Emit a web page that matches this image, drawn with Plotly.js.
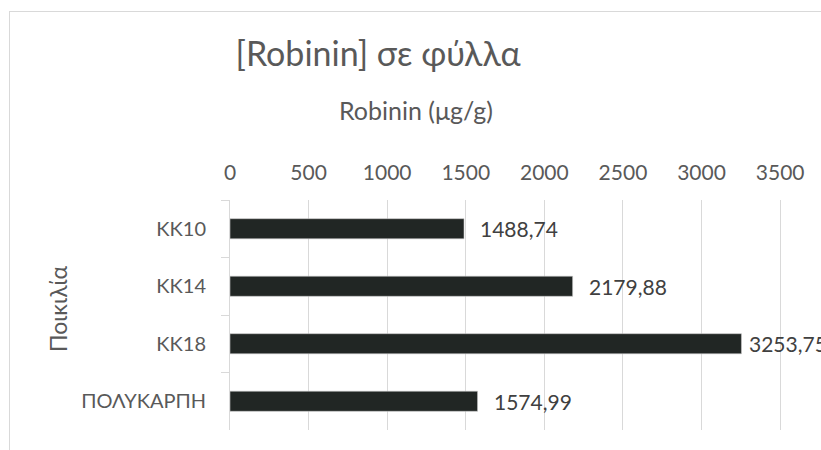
<!DOCTYPE html>
<html>
<head>
<meta charset="utf-8">
<script src="https://cdn.plot.ly/plotly-3.0.1.min.js"></script>
<style>
html,body{margin:0;padding:0;overflow:hidden;background:#fff;}
#chart{width:821px;height:450px;}
#frame{position:absolute;left:9px;top:11px;width:1200px;height:1200px;border:1px solid #d9d9d9;pointer-events:none;}
</style>
</head>
<body>
<div id="chart"></div>
<div id="frame"></div>
<script>
const categories = ["KK10", "KK14", "KK18", "ΠΟΛΥΚΑΡΠΗ"];
const values = [1488.74, 2179.88, 3253.75, 1574.99];
const tickValues = [0, 500, 1000, 1500, 2000, 2500, 3000, 3500];
const chartTitle = "[Robinin] σε φύλλα";
const xTitle = "Robinin (μg/g)";
const yTitle = "Ποικιλία";

const FONT = "Lato, 'Open Sans', sans-serif";
const labels = values.map(v => v.toFixed(2).replace('.', ','));

const trace = {
  type: 'bar',
  orientation: 'h',
  x: values,
  y: categories,
  marker: {color: '#212624', line: {color: '#c8c8c8', width: 0.6}},
  hoverinfo: 'skip'
};

const XMAX = 3760;
const annotations = values.map((v, i) => ({
  x: v, y: categories[i], xref: 'x', yref: 'y',
  text: labels[i], showarrow: false, xanchor: 'left', yanchor: 'middle',
  xshift: v > XMAX * 0.8 ? 6 : 14, font: {family: FONT, size: 21, color: '#404040'}
}));
annotations.push({
  text: xTitle, xref: 'paper', yref: 'paper',
  x: (416 - 230) / 591, y: (430 - 110) / 230, xanchor: 'center', yanchor: 'middle',
  showarrow: false, font: {family: FONT, size: 25, color: '#595959'}
});
annotations.push({
  text: yTitle, xref: 'paper', yref: 'paper', textangle: -90,
  x: (58 - 230) / 591, y: (430 - 309) / 230, xanchor: 'center', yanchor: 'middle',
  showarrow: false, font: {family: FONT, size: 23, color: '#595959'}
});

const layout = {
  width: 821, height: 450,
  margin: {l: 230, r: 0, t: 200, b: 20},
  paper_bgcolor: '#fff', plot_bgcolor: '#fff',
  font: {family: FONT, color: '#595959'},
  showlegend: false,
  bargap: 0.65,
  title: {text: chartTitle, x: 378/821, xref: 'container', xanchor: 'center',
          y: 1 - 54/450, yref: 'container', yanchor: 'middle',
          font: {family: FONT, size: 34, color: '#595959'}},
  xaxis: {
    side: 'top', range: [0, XMAX], tickvals: tickValues,
    showgrid: true, gridcolor: '#d9d9d9', gridwidth: 1,
    zeroline: false, showline: false, ticks: '',
    tickfont: {family: FONT, size: 21, color: '#595959'},
    ticklabelstandoff: 15,
    fixedrange: true
  },
  yaxis: {
    autorange: 'reversed', type: 'category',
    showline: true, linecolor: '#d9d9d9', linewidth: 1,
    ticks: 'outside', tickson: 'boundaries', ticklen: 8, tickcolor: '#d9d9d9',
    showgrid: false, zeroline: false,
    tickfont: {family: FONT, size: 20, color: '#595959'},
    ticklabelstandoff: 19,
    fixedrange: true
  },
  annotations: annotations
};

Plotly.newPlot('chart', [trace], layout, {displayModeBar: false, staticPlot: true});
</script>
</body>
</html>
